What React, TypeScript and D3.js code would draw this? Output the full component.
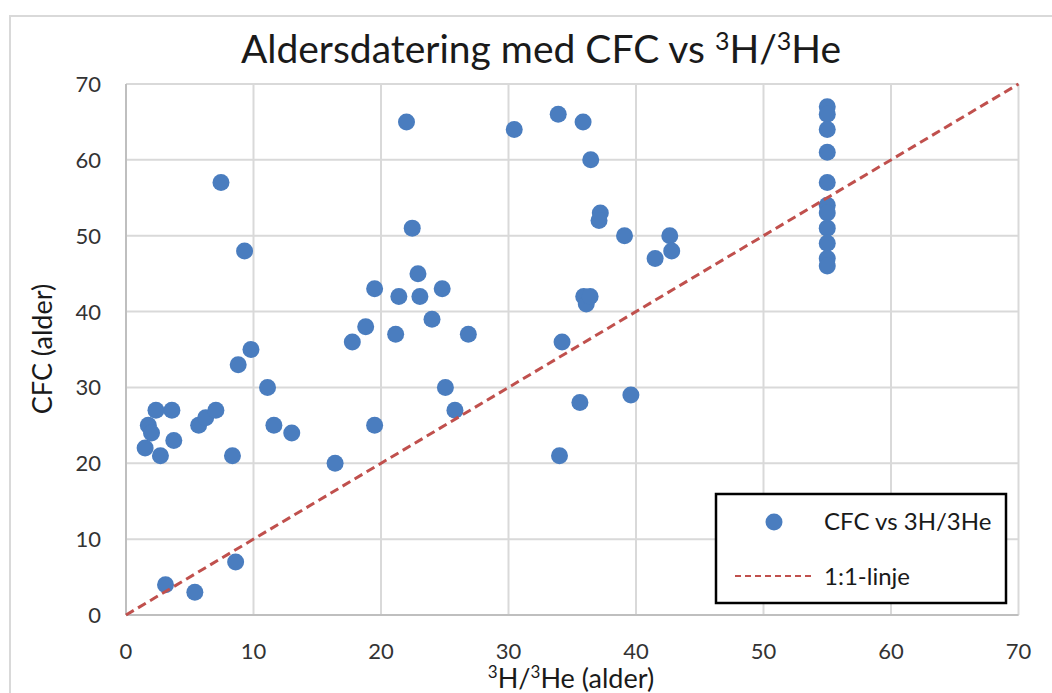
import React from "react";
import * as d3 from "d3";

const xValues: number[] = [
  1.5, 1.75, 2.0, 2.35, 2.7, 3.1, 3.6, 3.75, 5.4, 5.7, 6.25, 7.05, 7.45, 8.35, 8.6, 8.8, 9.3, 9.8,
  11.1, 11.6, 13.0, 16.4, 17.75, 18.8, 19.5, 19.5, 21.15, 21.4, 22.0, 22.45, 22.9, 23.05, 24.0, 24.8,
  25.05, 25.8, 26.85, 30.45, 33.9, 34.0, 34.2, 35.6, 35.85, 35.9, 36.1, 36.4, 36.45, 37.2, 37.1,
  39.1, 39.6, 41.5, 42.65, 42.8,
  55, 55, 55, 55, 55, 55, 55, 55, 55, 55, 55,
];
const yValues: number[] = [
  22, 25, 24, 27, 21, 4, 27, 23, 3, 25, 26, 27, 57, 21, 7, 33, 48, 35,
  30, 25, 24, 20, 36, 38, 43, 25, 37, 42, 65, 51, 45, 42, 39, 43,
  30, 27, 37, 64, 66, 21, 36, 28, 65, 42, 41, 42, 60, 53, 52,
  50, 29, 47, 50, 48,
  67, 66, 64, 61, 57, 54, 53, 51, 49, 47, 46,
];
const lineX: number[] = [0, 70];
const lineY: number[] = [0, 70];
const xTicks: number[] = [0, 10, 20, 30, 40, 50, 60, 70];
const yTicks: number[] = [0, 10, 20, 30, 40, 50, 60, 70];
const seriesName = "CFC vs 3H/3He";
const lineName = "1:1-linje";

const FONT = "Lato, 'Open Sans', sans-serif";
const BLUE = "#4a7dbf";
const RED = "#c0504d";

export default function App() {
  const W = 1052, H = 693;
  const x = d3.scaleLinear().domain([0, 70]).range([126, 1018.5]);
  const y = d3.scaleLinear().domain([0, 70]).range([615, 84]);
  const line = d3.line<number>().x((_, i) => x(lineX[i])).y((_, i) => y(lineY[i]));

  return (
    <svg width={W} height={H} style={{ position: "absolute", left: 0, top: 0, background: "#fff" }}
      fontFamily={FONT}>
      <rect x={0} y={0} width={W} height={H} fill="#fff" />
      <rect x={10} y={16} width={1100} height={800} fill="none" stroke="#d9d9d9" strokeWidth={2} />
      <text x={541} y={63} textAnchor="middle" fontSize={39} fill="#1a1a1a">
        Aldersdatering med CFC vs <tspan fontSize={25} dy={-13}>3</tspan>
        <tspan dy={13}>H/</tspan><tspan fontSize={25} dy={-13}>3</tspan><tspan dy={13}>He</tspan>
      </text>
      {xTicks.map((t) => (
        <line key={"gx" + t} x1={x(t)} x2={x(t)} y1={y(0)} y2={y(70)} stroke="#d9d9d9" strokeWidth={2} />
      ))}
      {yTicks.map((t) => (
        <line key={"gy" + t} x1={x(0)} x2={x(70)} y1={y(t)} y2={y(t)} stroke="#d9d9d9" strokeWidth={2} />
      ))}
      <line x1={x(0)} x2={x(0)} y1={y(0)} y2={y(70)} stroke="#bfbfbf" strokeWidth={2} />
      <line x1={x(0)} x2={x(70)} y1={y(0)} y2={y(0)} stroke="#bfbfbf" strokeWidth={2} />
      {xTicks.map((t) => (
        <text key={"tx" + t} x={x(t)} y={659} textAnchor="middle" fontSize={22} fill="#333">{t}</text>
      ))}
      {yTicks.map((t) => (
        <text key={"ty" + t} x={101} y={y(t) + 8} textAnchor="end" fontSize={22} fill="#333">{t}</text>
      ))}
      <text x={571} y={688} textAnchor="middle" fontSize={27} fill="#1a1a1a">
        <tspan fontSize={17} dy={-10}>3</tspan><tspan dy={10}>H/</tspan>
        <tspan fontSize={17} dy={-10}>3</tspan><tspan dy={10}>He (alder)</tspan>
      </text>
      <text transform="translate(52,349) rotate(-90)" textAnchor="middle" fontSize={27} fill="#1a1a1a">
        CFC (alder)
      </text>
      {xValues.map((v, i) => (
        <circle key={"p" + i} cx={x(v)} cy={y(yValues[i])} r={8.5} fill={BLUE} />
      ))}
      <path d={line(lineX) || ""} fill="none" stroke={RED} strokeWidth={3} strokeDasharray="9,5" />
      <rect x={716} y={494} width={290} height={109} fill="#fff" stroke="#000" strokeWidth={2.5} />
      <circle cx={774} cy={522} r={8.5} fill={BLUE} />
      <text x={824} y={530} fontSize={24} fill="#1a1a1a">{seriesName}</text>
      <line x1={735} x2={815} y1={576} y2={576} stroke={RED} strokeWidth={2} strokeDasharray="6,4" />
      <text x={824} y={585} fontSize={24} fill="#1a1a1a">{lineName}</text>
    </svg>
  );
}
